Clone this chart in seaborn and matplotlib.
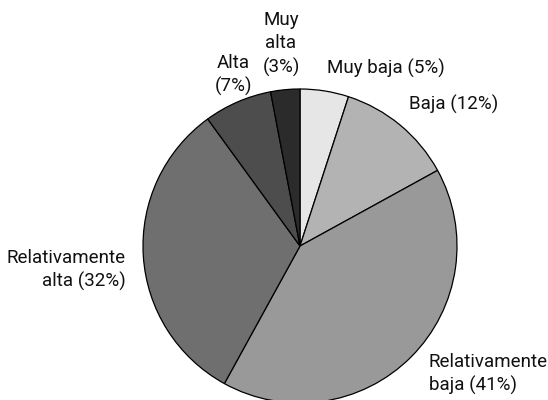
import matplotlib
matplotlib.use('Agg')
import matplotlib.pyplot as plt
import seaborn as sns

# data
categorias = ['Muy baja', 'Baja', 'Relativamente baja', 'Relativamente alta', 'Alta', 'Muy alta']
porcentajes = [5, 12, 41, 32, 7, 3]
etiquetas = ['Muy baja (5%)', 'Baja (12%)', 'Relativamente\nbaja (41%)',
             'Relativamente\nalta (32%)', 'Alta\n(7%)', 'Muy\nalta\n(3%)']
colores = ['#e6e6e6', '#b3b3b3', '#999999', '#6f6f6f', '#4d4d4d', '#2b2b2b']

sns.set_style('white')
plt.rcParams['font.family'] = ['Roboto', 'DejaVu Sans']

fig = plt.figure(figsize=(5.48, 4), dpi=100)
ax = fig.add_axes([0, 0, 1, 1])

ax.pie(porcentajes, colors=colores, startangle=90, counterclock=False,
       center=(300, -246), radius=157, frame=True,
       wedgeprops=dict(edgecolor='black', linewidth=0.9))
ax.set_xlim(0, 548)
ax.set_ylim(-400, 0)
ax.set_aspect('equal')
ax.axis('off')

# label placement (x, y, ha) in pixel-like coords, y measured downward
pos = [(327, 68, 'left'), (409, 104, 'left'), (429, 374, 'left'),
       (126, 270, 'right'), (233, 75, 'center'), (281, 44, 'center')]
for txt, (x, y, ha) in zip(etiquetas, pos):
    ax.text(x, -y, txt, ha=ha, va='center', fontsize=13.5,
            multialignment=ha, linespacing=1.35, color='#111111')

fig.savefig('out.png', dpi=100)
